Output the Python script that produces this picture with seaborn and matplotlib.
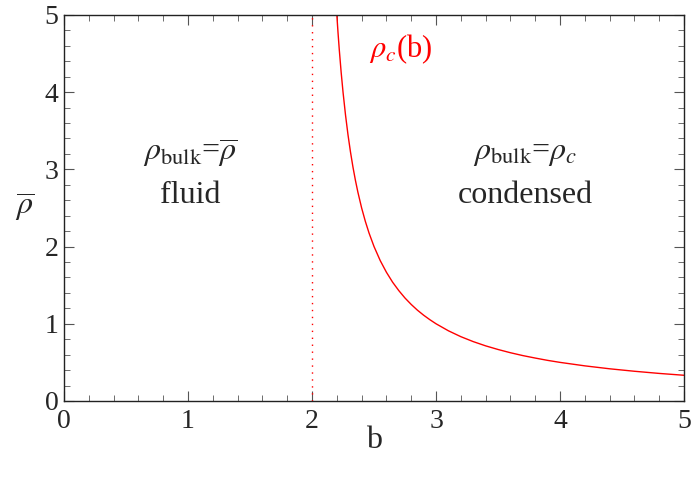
import matplotlib
matplotlib.use("Agg")
from matplotlib import pyplot as plt
import numpy as np
import pandas as pd
import seaborn as sns

# critical density curve
b_vals = [2.2, 2.21, 2.22, 2.235, 2.25, 2.27, 2.29, 2.31, 2.33, 2.35, 2.37, 2.4,
          2.43, 2.46, 2.5, 2.55, 2.6, 2.65, 2.7, 2.75, 2.8, 2.85, 2.9, 2.95,
          3.0, 3.1, 3.2, 3.3, 3.4, 3.5, 3.6, 3.7, 3.8, 3.9, 4.0, 4.2, 4.4,
          4.6, 4.8, 5.0]
rho_c = [5.0, 4.762, 4.545, 4.255, 4.0, 3.704, 3.448, 3.226, 3.03, 2.857, 2.703, 2.5,
         2.326, 2.174, 2.0, 1.818, 1.667, 1.538, 1.429, 1.333, 1.25, 1.176, 1.111, 1.053,
         1.0, 0.909, 0.833, 0.769, 0.714, 0.667, 0.625, 0.588, 0.556, 0.526, 0.5,
         0.455, 0.417, 0.385, 0.357, 0.333]
b_transition = 2
xticks = [0, 1, 2, 3, 4, 5]
yticks = [0, 1, 2, 3, 4, 5]

sns.set_style("ticks")
plt.rcParams['font.family'] = ['Liberation Serif', 'DejaVu Serif']
plt.rcParams['mathtext.fontset'] = 'stix'

df = pd.DataFrame({'b': b_vals, 'rho': rho_c})

fig = plt.figure(figsize=(6.92, 4.8), dpi=100)
ax = fig.add_axes([0.0925, 0.1646, 0.896, 0.8044])

sns.lineplot(data=df, x='b', y='rho', color='red', lw=1.0, estimator=None, ax=ax)
ax.axvline(b_transition, color='red', ls=(0, (1, 4)), lw=1.0)

ax.set_xlim(0, 5)
ax.set_ylim(0, 5)
ax.set_xticks(xticks)
ax.set_yticks(yticks)
ax.set_xticks(np.arange(0, 5.01, 0.2), minor=True)
ax.set_yticks(np.arange(0, 5.01, 0.2), minor=True)
ax.tick_params(which='both', direction='in', top=True, right=True, color='#555555',
               labelsize=20, pad=4)
ax.tick_params(which='major', length=7, width=0.8)
ax.tick_params(which='minor', length=4, width=0.6)
ax.tick_params(axis='x', pad=6)
for s in ax.spines.values():
    s.set_linewidth(1.0)
    s.set_color('#222222')

ax.set_xlabel('b', fontsize=23, labelpad=-6)
ax.set_ylabel(r'$\overline{\rho}$', fontsize=23, rotation=0, labelpad=14, va='center')

ax.text(2.72, 4.56, r'$\rho_c$(b)', color='red', fontsize=22, ha='center', va='center')
ax.text(1.02, 3.2, r'$\rho_{\rm bulk}$=$\overline{\rho}$', fontsize=23, ha='center', va='center')
ax.text(1.02, 2.66, 'fluid', fontsize=23, ha='center', va='center')
ax.text(3.72, 3.2, r'$\rho_{\rm bulk}$=$\rho_c$', fontsize=23, ha='center', va='center')
ax.text(3.72, 2.66, 'condensed', fontsize=23, ha='center', va='center')

fig.savefig('out.png', dpi=100)
